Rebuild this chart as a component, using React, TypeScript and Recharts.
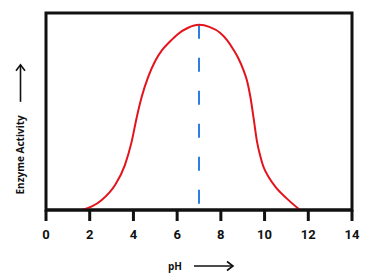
import React from "react";
import { LineChart, Line, XAxis, YAxis, ReferenceLine, ReferenceArea } from "recharts";

const phValues = [1.63, 2.1, 2.55, 3.16, 3.61, 3.92, 4.15, 4.38, 4.68, 4.99, 5.3, 5.67, 6.0, 6.5, 7.0, 7.5, 7.96, 8.3, 8.57, 8.8, 9.03, 9.2, 9.35, 9.5, 9.65, 9.8, 9.94, 10.2, 10.48, 11.01, 11.62];
const activityValues = [0, 0.018, 0.051, 0.127, 0.228, 0.347, 0.47, 0.575, 0.677, 0.755, 0.81, 0.855, 0.89, 0.925, 0.94, 0.928, 0.9, 0.86, 0.815, 0.77, 0.711, 0.655, 0.575, 0.465, 0.35, 0.275, 0.222, 0.165, 0.12, 0.059, 0];
const xTicks = [0, 2, 4, 6, 8, 10, 12, 14];
const optimumPh = 7;
const peakActivity = 0.94;

const data = phValues.map((ph, i) => ({ ph, activity: activityValues[i] }));

const XLabel = (props: any) => {
  const vb = props.viewBox || {};
  const cx = vb.x + vb.width * 0.5;
  const y = vb.y + vb.height - 9;
  return (
    <g>
      <text x={cx - 24} y={y} textAnchor="middle" dominantBaseline="central" fontFamily="Open Sans" fontWeight={700} fontSize={10} fill="#111">pH</text>
      <line x1={cx - 5} y1={y} x2={cx + 33} y2={y} stroke="#111" strokeWidth={1.6} />
      <path d={`M ${cx + 28} ${y - 4.5} L ${cx + 34} ${y} L ${cx + 28} ${y + 4.5}`} fill="none" stroke="#111" strokeWidth={1.6} />
    </g>
  );
};

const YLabel = (props: any) => {
  const vb = props.viewBox || {};
  const x = 20;
  const cy = vb.y + vb.height * 0.72;
  return (
    <g>
      <text x={x} y={cy} transform={`rotate(-90 ${x} ${cy})`} textAnchor="middle" dominantBaseline="central" fontFamily="Open Sans" fontWeight={700} fontSize={10} fill="#111">Enzyme Activity</text>
      <line x1={x + 0.5} y1={cy - 53} x2={x + 0.5} y2={cy - 89} stroke="#111" strokeWidth={1.6} />
      <path d={`M ${x - 4} ${cy - 84} L ${x + 0.5} ${cy - 90} L ${x + 5} ${cy - 84}`} fill="none" stroke="#111" strokeWidth={1.6} />
    </g>
  );
};

export default function App() {
  return (
    <div style={{ position: "absolute", left: 0, top: 0, width: 366, height: 275, background: "#fff" }}>
      <LineChart width={366} height={275} data={data} margin={{ top: 13, right: 14, left: 45, bottom: 0 }}>
        <XAxis
          dataKey="ph"
          type="number"
          domain={[0, 14]}
          ticks={xTicks}
          interval={0}
          height={65}
          tickSize={11}
          tickMargin={9}
          axisLine={{ stroke: "#111", strokeWidth: 3 }}
          tickLine={{ stroke: "#111", strokeWidth: 3 }}
          tick={{ fill: "#111", fontFamily: "Roboto", fontWeight: 700, fontSize: 13 }}
          label={<XLabel />}
        />
        <YAxis domain={[0, 1]} width={1} tick={false} tickLine={false} axisLine={false} label={<YLabel />} />
        <ReferenceArea x1={0} x2={14} y1={0} y2={1} fill="none" fillOpacity={0} stroke="#111" strokeWidth={3} ifOverflow="visible" />
        <ReferenceLine
          segment={[{ x: optimumPh, y: peakActivity }, { x: optimumPh, y: 0 }]}
          stroke="#2f7de1"
          strokeWidth={2}
          strokeDasharray="14 19"
        />
        <Line type="monotone" dataKey="activity" stroke="#e3141c" strokeWidth={2} dot={false} isAnimationActive={false} />
      </LineChart>
    </div>
  );
}
